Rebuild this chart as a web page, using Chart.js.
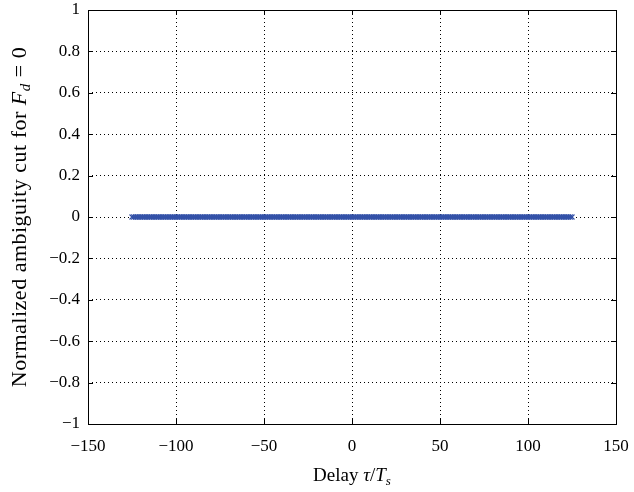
<!DOCTYPE html>
<html>
<head>
<meta charset="utf-8">
<script src="https://cdn.jsdelivr.net/npm/chart.js@4"></script>
<style>
  html, body { margin: 0; padding: 0; background: #fff; }
  #wrap { width: 634px; height: 492px; }
</style>
</head>
<body>
<div id="wrap"><canvas id="cut-chart" width="634" height="492"></canvas></div>
<script>
// Delay axis samples tau/Ts (integer lags from -125 to 125)
const delays = [];
for (let t = -125; t <= 125; t++) delays.push(t);

// Normalized ambiguity cut at Fd = 0: flat at zero across every lag
const cutValues = [
  0,0,0,0,0,0,0,0,0,0,0,0,0,0,0,0,0,0,0,0,0,0,0,0,0,0,0,0,0,0,0,0,0,0,0,0,0,0,0,0,0,0,0,0,0,0,0,0,0,0,
  0,0,0,0,0,0,0,0,0,0,0,0,0,0,0,0,0,0,0,0,0,0,0,0,0,0,0,0,0,0,0,0,0,0,0,0,0,0,0,0,0,0,0,0,0,0,0,0,0,0,
  0,0,0,0,0,0,0,0,0,0,0,0,0,0,0,0,0,0,0,0,0,0,0,0,0,0,0,0,0,0,0,0,0,0,0,0,0,0,0,0,0,0,0,0,0,0,0,0,0,0,
  0,0,0,0,0,0,0,0,0,0,0,0,0,0,0,0,0,0,0,0,0,0,0,0,0,0,0,0,0,0,0,0,0,0,0,0,0,0,0,0,0,0,0,0,0,0,0,0,0,0,
  0,0,0,0,0,0,0,0,0,0,0,0,0,0,0,0,0,0,0,0,0,0,0,0,0,0,0,0,0,0,0,0,0,0,0,0,0,0,0,0,0,0,0,0,0,0,0,0,0,0,
  0
];

const xTicks = [-150, -100, -50, 0, 50, 100, 150];
const yTicks = [-1, -0.8, -0.6, -0.4, -0.2, 0, 0.2, 0.4, 0.6, 0.8, 1];

const serif = '"Liberation Serif", "DejaVu Serif", serif';
const lineBlue = '#3452a8';

// box round the plot, inward ticks, and mixed-style axis titles
const matlabFrame = {
  id: 'matlabFrame',
  afterDraw(chart) {
    const { ctx, chartArea: a, scales: { x, y } } = chart;
    ctx.save();
    ctx.strokeStyle = '#000';
    ctx.lineWidth = 1;
    ctx.beginPath();
    xTicks.forEach(v => {
      const px = Math.round(x.getPixelForValue(v)) + 0.5;
      ctx.moveTo(px, a.bottom); ctx.lineTo(px, a.bottom - 5);
      ctx.moveTo(px, a.top); ctx.lineTo(px, a.top + 5);
    });
    yTicks.forEach(v => {
      const py = Math.round(y.getPixelForValue(v)) + 0.5;
      ctx.moveTo(a.left, py); ctx.lineTo(a.left + 5, py);
      ctx.moveTo(a.right, py); ctx.lineTo(a.right - 5, py);
    });
    ctx.stroke();
    ctx.strokeRect(Math.round(a.left) + 0.5, Math.round(a.top) + 0.5,
                   Math.round(a.right - a.left), Math.round(a.bottom - a.top));

    // x title: Delay τ/T_s
    ctx.fillStyle = '#000';
    ctx.textBaseline = 'alphabetic';
    const xParts = [
      { t: 'Delay ', f: '19px ' + serif, dy: 0 },
      { t: 'τ', f: 'italic 19px ' + serif, dy: 0 },
      { t: '/', f: '19px ' + serif, dy: 0 },
      { t: 'T', f: 'italic 19px ' + serif, dy: 0 },
      { t: 's', f: 'italic 13px ' + serif, dy: 4 }
    ];
    drawParts(ctx, xParts, (a.left + a.right) / 2, 481);

    // y title, rotated
    ctx.translate(26, (a.top + a.bottom) / 2);
    ctx.rotate(-Math.PI / 2);
    ctx.letterSpacing = '0.5px';
    const yParts = [
      { t: 'Normalized ambiguity cut for ', f: '22px ' + serif, dy: 0 },
      { t: 'F', f: 'italic 22px ' + serif, dy: 0 },
      { t: 'd', f: 'italic 15px ' + serif, dy: 4 },
      { t: ' = 0', f: '22px ' + serif, dy: 0 }
    ];
    drawParts(ctx, yParts, 0, 0);
    ctx.restore();
  }
};

function drawParts(ctx, parts, cx, baseY) {
  let total = 0;
  parts.forEach(p => { ctx.font = p.f; p.w = ctx.measureText(p.t).width; total += p.w; });
  let xPos = cx - total / 2;
  ctx.textAlign = 'left';
  parts.forEach(p => {
    ctx.font = p.f;
    ctx.fillText(p.t, xPos, baseY + p.dy);
    xPos += p.w;
  });
}

// drop the label overhang padding so the plot box sits where layout.padding says
function noOverhang(s) {
  s.paddingTop = 0;
  s.paddingBottom = 0;
  s.paddingLeft = 0;
  s.paddingRight = 0;
}

const points = delays.map((d, i) => ({ x: d, y: cutValues[i] }));

new Chart(document.getElementById('cut-chart'), {
  type: 'scatter',
  data: {
    datasets: [{
      label: 'cut',
      data: points,
      showLine: true,
      borderColor: lineBlue,
      borderWidth: 2,
      pointStyle: 'crossRot',
      pointRadius: 3.5,
      pointBorderColor: lineBlue,
      pointBorderWidth: 1.2,
      pointBackgroundColor: lineBlue
    }]
  },
  options: {
    responsive: false,
    animation: false,
    events: [],
    layout: { padding: { top: 10, right: 18, left: 0, bottom: 0 } },
    plugins: { legend: { display: false }, tooltip: { enabled: false } },
    scales: {
      x: {
        type: 'linear',
        min: -150,
        max: 150,
        afterBuildTicks: s => { s.ticks = xTicks.map(v => ({ value: v })); },
        afterFit: s => { s.height = 68; noOverhang(s); },
        ticks: {
          color: '#000',
          padding: 12,
          maxRotation: 0,
          font: { family: serif, size: 17 },
          callback: v => (v < 0 ? '\u2212' + Math.abs(v) : String(v))
        },
        grid: {
          color: ctx => (ctx.tick && (ctx.tick.value === -150 || ctx.tick.value === 150) ? 'rgba(0,0,0,0)' : '#000'),
          lineWidth: 1,
          drawTicks: false
        },
        border: { display: false, dash: [1, 3] }
      },
      y: {
        type: 'linear',
        min: -1,
        max: 1,
        afterBuildTicks: s => { s.ticks = yTicks.map(v => ({ value: v })); },
        afterFit: s => { s.width = 88; noOverhang(s); },
        ticks: {
          color: '#000',
          padding: 8,
          font: { family: serif, size: 17 },
          callback: v => {
            const r = Math.round(v * 10) / 10;
            return r < 0 ? '\u2212' + Math.abs(r) : String(r);
          }
        },
        grid: {
          color: ctx => (ctx.tick && (ctx.tick.value === -1 || ctx.tick.value === 1) ? 'rgba(0,0,0,0)' : '#000'),
          lineWidth: 1,
          drawTicks: false
        },
        border: { display: false, dash: [1, 3] }
      }
    }
  },
  plugins: [matlabFrame]
});
</script>
</body>
</html>
